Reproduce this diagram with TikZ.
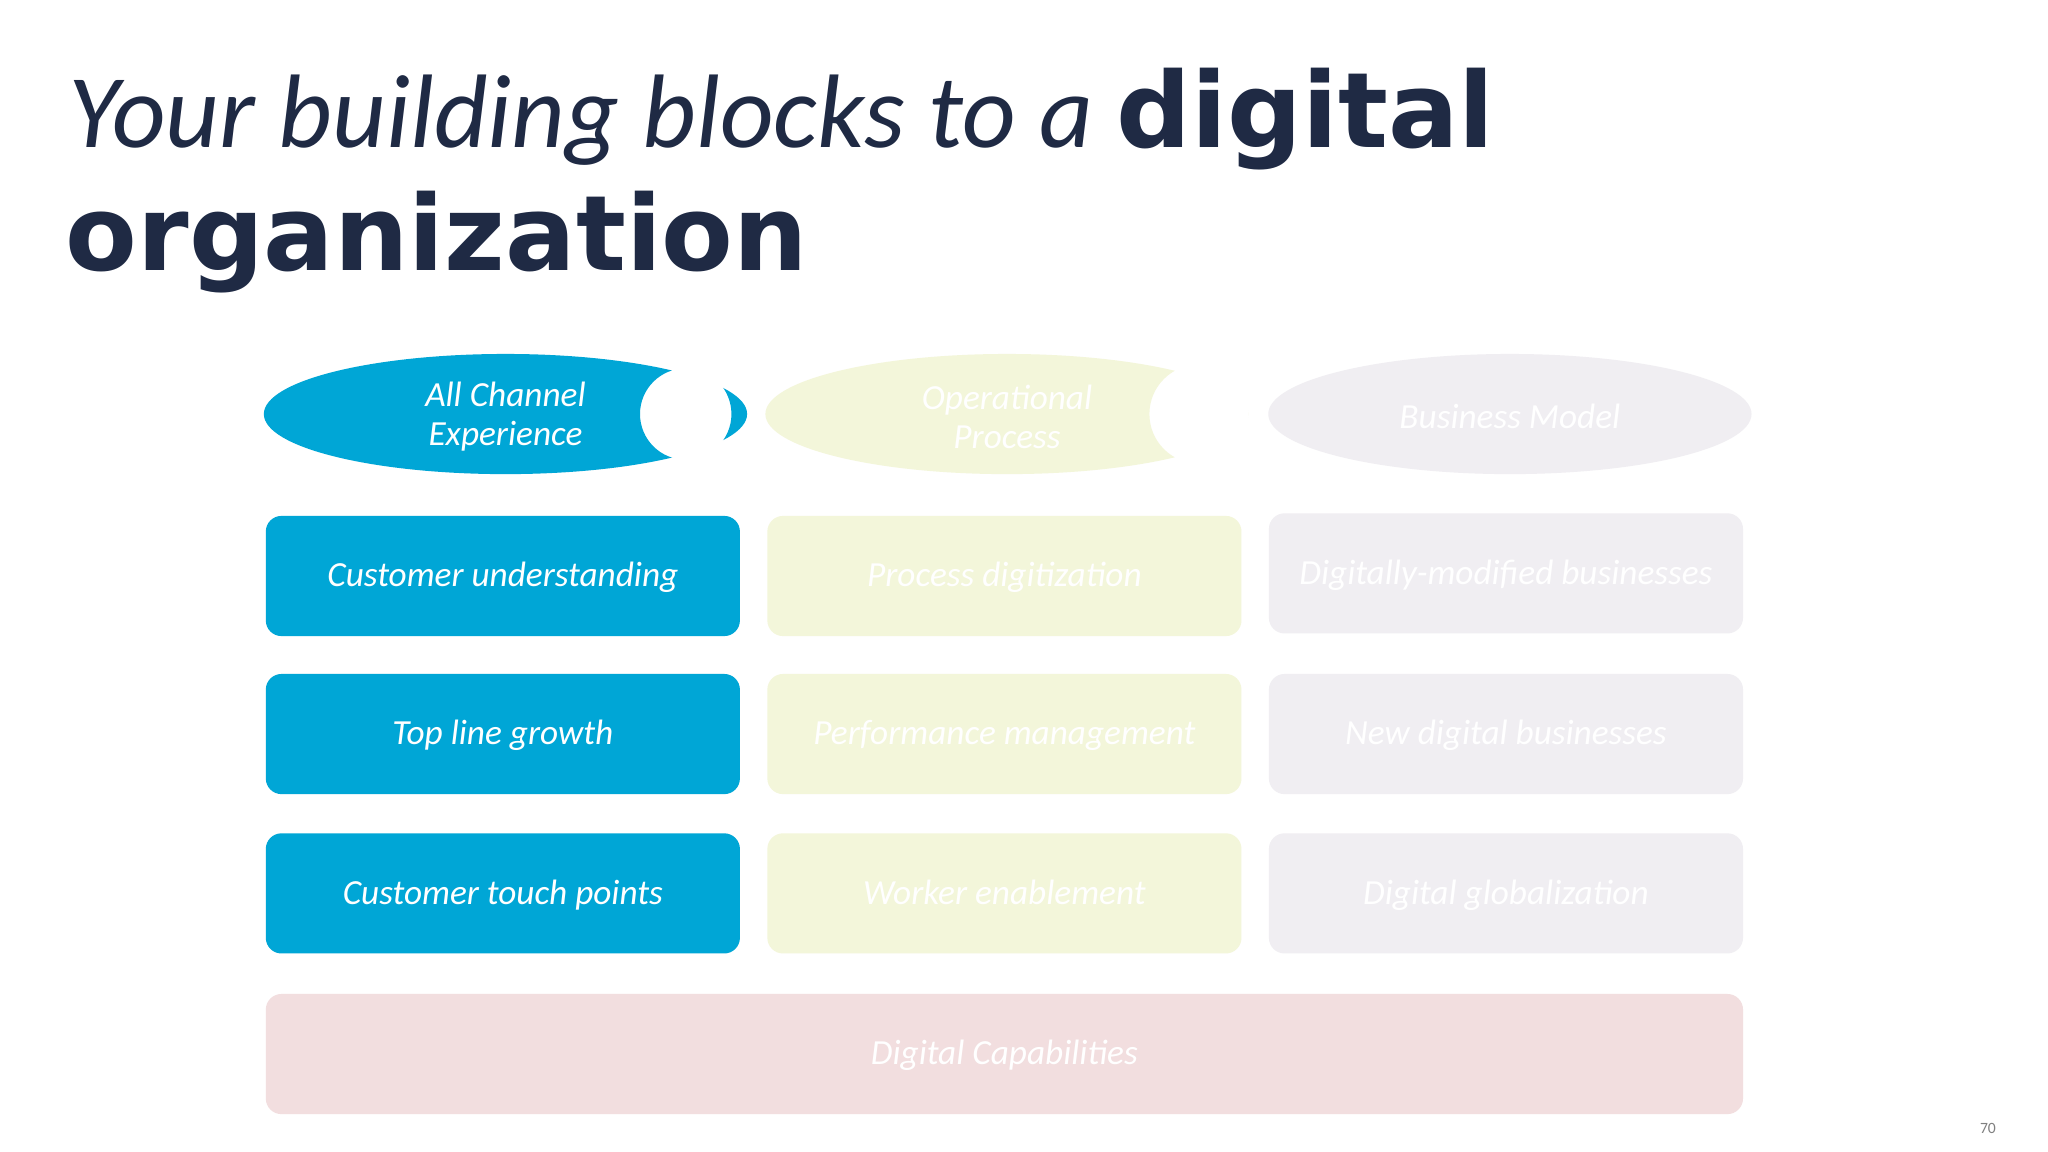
\documentclass[tikz,border=0pt]{standalone}
\usepackage{fontspec}
\setmainfont{Carlito}
\newfontfamily\heavy{DejaVu Sans}
\definecolor{cblue}{RGB}{0,166,214}
\definecolor{cyel}{RGB}{243,246,218}
\definecolor{cgrey}{RGB}{240,238,242}
\definecolor{cpink}{RGB}{242,222,223}
\definecolor{navy}{RGB}{31,42,68}
\begin{document}
\begin{tikzpicture}[x=0.5pt,y=-0.5pt,
  blk/.style={rounded corners=6pt,minimum width=181.5pt,minimum height=46pt,inner sep=0pt,text=white,font=\fontsize{13.5}{15}\selectfont\itshape,text depth=1pt},
  lbl/.style={text=white,font=\fontsize{13.5}{15}\selectfont\itshape,align=center}]
\useasboundingbox (0,0) rectangle (1568,882);
\fill[white] (0,0) rectangle (1568,882);
\node[anchor=base west,inner sep=0pt,text=navy] (t1) at (52,113) {\fontsize{40}{42}\selectfont\itshape Your building blocks to a \heavy\upshape\bfseries digital};
\node[anchor=base west,inner sep=0pt,text=navy] (t2) at (50,207) {\fontsize{40}{42}\selectfont\heavy\bfseries organization};
% ellipses
\begin{scope}[even odd rule]\clip (0,0) rectangle (1568,882) (525,317) circle [radius=35];
\fill[cblue] (387,317) ellipse [x radius=185,y radius=46];
\end{scope}
\begin{scope}[even odd rule]\clip (0,0) rectangle (1568,882) (918,317) circle [radius=38];
\fill[cyel] (771,317) ellipse [x radius=185,y radius=46];
\end{scope}
\fill[cgrey] (1156,317) ellipse [x radius=185,y radius=46];
\node[lbl] (e1) at (387,319) {All Channel\\Experience};
\node[lbl] (e2) at (771,319) {Operational\\Process};
\node[lbl] (e3) at (1156,319) {Business Model};
% boxes
\node[blk,fill=cblue] (a1) at (385,441) {Customer understanding};
\node[blk,fill=cblue] (a2) at (385,562) {Top line growth};
\node[blk,fill=cblue] (a3) at (385,684) {Customer touch points};
\node[blk,fill=cyel] (b1) at (769,441) {Process digitization};
\node[blk,fill=cyel] (b2) at (769,562) {Performance management};
\node[blk,fill=cyel] (b3) at (769,684) {Worker enablement};
\node[blk,fill=cgrey] (c1) at (1153,439) {Digitally-modified businesses};
\node[blk,fill=cgrey] (c2) at (1153,562) {New digital businesses};
\node[blk,fill=cgrey] (c3) at (1153,684) {Digital globalization};
\node[blk,fill=cpink,minimum width=565.5pt] (d) at (769,807) {Digital Capabilities};
\node[text=gray,font=\fontsize{6}{7}\selectfont] (pg) at (1522,864) {70};
\end{tikzpicture}
\end{document}
